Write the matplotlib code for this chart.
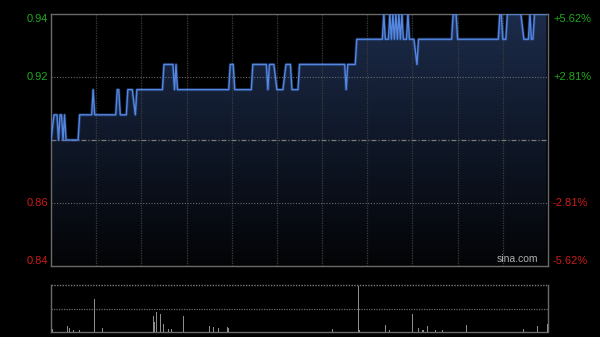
import numpy as np
import matplotlib
matplotlib.use("Agg")
import matplotlib.pyplot as plt
from matplotlib.colors import LinearSegmentedColormap

plt.rcParams["font.family"] = ["Liberation Sans", "DejaVu Sans"]

# ---- data ----
base_price = 0.89
pct_levels = [5.62, 2.81, -2.81, -5.62]
left_labels = ["0.94", "0.92", "0.86", "0.84"]
right_labels = ["+5.62%", "+2.81%", "-2.81%", "-5.62%"]

# polyline vertices of the intraday price line (minute index, price)
line_minutes = [0, 2, 4, 5, 6, 7, 8, 9, 10,
                18, 19, 27, 28, 29,
                43, 44, 45, 46,
                50, 51, 54, 56, 57,
                74, 75, 81, 82, 83, 84,
                118, 119, 121, 122,
                133, 134, 143, 144, 145, 148, 150, 154, 156, 159, 160, 164, 165,
                195, 196, 197, 202, 203,
                220, 221, 222, 224, 225, 226, 227, 228, 229, 230, 231, 232, 233, 234, 236, 237, 238,
                241, 243, 244,
                266, 267, 269, 270,
                297, 298, 299, 300, 302, 303, 312, 314, 317, 318, 319, 320, 321, 329]
line_prices = [0.89, 0.90, 0.90, 0.89, 0.90, 0.90, 0.89, 0.90, 0.89,
               0.89, 0.90, 0.90, 0.91, 0.90,
               0.90, 0.91, 0.91, 0.90,
               0.90, 0.91, 0.91, 0.90, 0.91,
               0.91, 0.92, 0.92, 0.91, 0.92, 0.91,
               0.91, 0.92, 0.92, 0.91,
               0.91, 0.92, 0.92, 0.91, 0.92, 0.92, 0.91, 0.91, 0.92, 0.92, 0.91, 0.91, 0.92,
               0.92, 0.91, 0.92, 0.92, 0.93,
               0.93, 0.94, 0.93, 0.93, 0.94, 0.93, 0.94, 0.93, 0.94, 0.93, 0.94, 0.93, 0.94, 0.93, 0.93, 0.94, 0.93,
               0.93, 0.92, 0.93,
               0.93, 0.94, 0.94, 0.93,
               0.93, 0.94, 0.94, 0.93, 0.93, 0.94, 0.94, 0.93, 0.93, 0.94, 0.93, 0.93, 0.94, 0.94]

# volume bars (minute index, volume in thousand shares)
vol_minutes = [1, 11, 12, 15, 19, 29, 34, 68, 69, 70, 73, 75, 78, 80, 88,
               105, 108, 111, 117, 118, 187, 204, 205, 222, 225, 240, 244, 247,
               250, 255, 260, 276, 314, 323, 330]
vol_values = [30, 60, 40, 20, 20, 330, 40, 156, 100, 196, 180, 80, 30, 30, 160,
              60, 50, 40, 50, 40, 30, 460, 20, 70, 20, 180, 40, 20,
              60, 20, 20, 70, 30, 60, 80]
vol_max = 470
total_minutes = 330
grid_minutes = list(range(30, 330, 30))

# ---- figure ----
fig = plt.figure(figsize=(6.0, 3.37), dpi=100, facecolor="black")
ax = fig.add_axes([51/600, 1-266/337, 497/600, 252/337])
axv = fig.add_axes([51/600, 1-332/337, 497/600, 47/337])

ymin = base_price * (1 + pct_levels[-1] / 100)
ymax = base_price * (1 + pct_levels[0] / 100)

for a in (ax, axv):
    a.set_facecolor("black")
    a.set_xlim(0, total_minutes)
    a.set_xticks([])
    a.set_yticks([])

ax.set_ylim(ymin, ymax)

# gradient fill under the line
cmap = LinearSegmentedColormap.from_list("fill", [(0.012, 0.016, 0.024), (0.11, 0.17, 0.29)])
grad = np.linspace(0, 1, 256).reshape(-1, 1)
im = ax.imshow(grad, cmap=cmap, aspect="auto", origin="lower",
               extent=[0, total_minutes, ymin, ymax], zorder=1)
poly = ax.fill_between(line_minutes, line_prices, ymin, color="none", lw=0)
im.set_clip_path(poly.get_paths()[0], transform=ax.transData)

# grid
for m in grid_minutes:
    ax.axvline(m, color="#3c3c3c", lw=0.9, ls=(0, (1, 1)), zorder=2)
for p in pct_levels:
    val = base_price * (1 + p / 100)
    if abs(p) < 5:
        ax.axhline(val, color="#6a6a6a", lw=0.8, ls=(0, (1, 1.5)), zorder=2)
ax.axhline(base_price, color="#7a7a7a", lw=0.9, ls=(0, (4, 1.5, 1, 1.5)), zorder=2)

# price line
ax.plot(line_minutes, line_prices, color="#3b6fd0", lw=2.2, alpha=0.35, zorder=3)
ax.plot(line_minutes, line_prices, color="#5587e0", lw=1.0, zorder=4)

for s in ax.spines.values():
    s.set_color("#6a6a6a")
    s.set_linewidth(1.0)

# axis labels
for p, lab, rlab in zip(pct_levels, left_labels, right_labels):
    val = base_price * (1 + p / 100)
    col = "#1fa81f" if p > 0 else "#cc1a1a"
    va = "center"
    if p == pct_levels[0]:
        va = "top"
    elif p == pct_levels[-1]:
        va = "bottom"
    ax.text(-0.006, val, lab, transform=ax.get_yaxis_transform(), ha="right", va=va,
            color=col, fontsize=8)
    ax.text(1.01, val, rlab, transform=ax.get_yaxis_transform(), ha="left", va=va,
            color=col, fontsize=8)

ax.text(0.98, 0.008, "sina.com", transform=ax.transAxes, ha="right", va="bottom",
        color="#b0b0b0", fontsize=7.5)

# volume panel
axv.set_ylim(0, vol_max)
axv.bar(vol_minutes, vol_values, width=0.7, color="#8c8c8c", zorder=3)
axv.axhline(vol_max, color="#7a7a7a", lw=1.0, ls=(0, (1, 1)), zorder=2, clip_on=False)
axv.axhline(vol_max / 2, color="#6a6a6a", lw=0.9, ls=(0, (1, 1)), zorder=2)
axv.spines["top"].set_visible(False)
for k in ("left", "right", "bottom"):
    axv.spines[k].set_color("#6a6a6a")
    axv.spines[k].set_linewidth(1.0)
axv.spines["bottom"].set_linestyle((0, (1, 1)))

fig.savefig("out.png", dpi=100, facecolor="black")
